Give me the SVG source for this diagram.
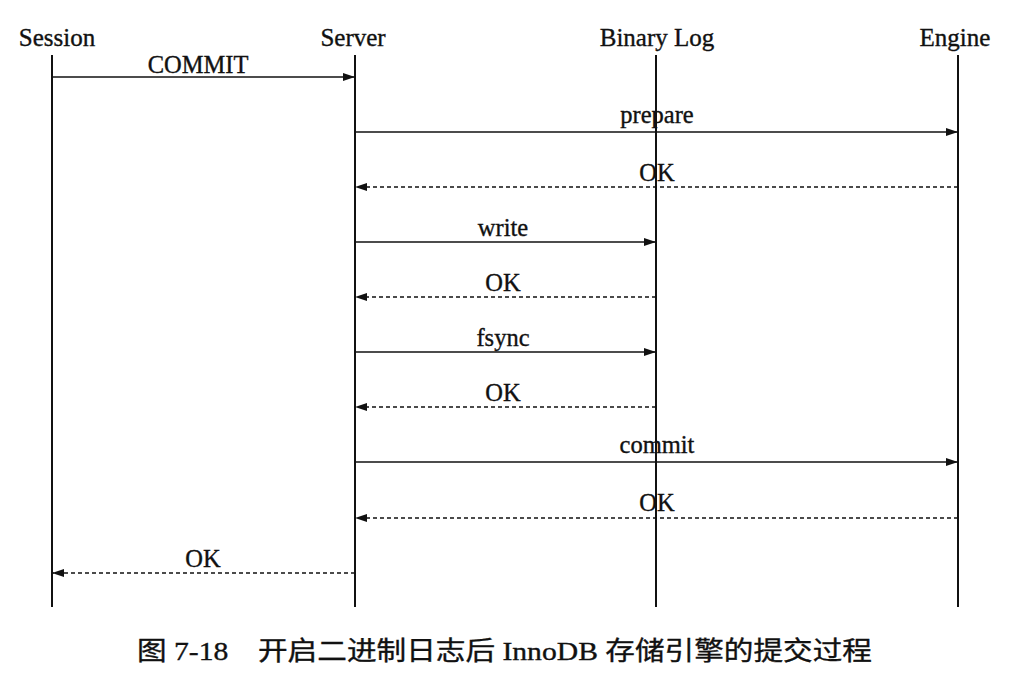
<svg xmlns="http://www.w3.org/2000/svg" width="1017" height="676" viewBox="0 0 1017 676">
<style>
text{font-family:"Liberation Serif","Noto Sans CJK SC",serif;fill:#111;stroke:#111;stroke-width:0.35}
.h{font-size:25px;text-anchor:middle}
.l{font-size:24.5px;text-anchor:middle}
.life{stroke:#111;stroke-width:2}
.msg{stroke:#111;stroke-width:1.6;fill:none;marker-end:url(#ah)}
.ret{stroke:#111;stroke-width:1.6;fill:none;stroke-dasharray:4 3;marker-end:url(#ah)}
</style>
<defs>
<marker id="ah" viewBox="0 0 12 8" refX="12" refY="4" markerWidth="12" markerHeight="8" markerUnits="userSpaceOnUse" orient="auto">
<path d="M0,0 L12,4 L0,8 Z" fill="#111"/>
</marker>
</defs>
<rect width="1017" height="676" fill="#fff"/>
<g id="session"><text class="h" x="57" y="46">Session</text><line class="life" x1="52" y1="55" x2="52" y2="607"/></g>
<g id="server"><text class="h" x="353" y="46">Server</text><line class="life" x1="355" y1="55" x2="355" y2="607"/></g>
<g id="binlog"><text class="h" x="657" y="46">Binary Log</text><line class="life" x1="656" y1="55" x2="656" y2="607"/></g>
<g id="engine"><text class="h" x="955" y="46">Engine</text><line class="life" x1="958" y1="55" x2="958" y2="607"/></g>
<g id="connectors">
<line class="msg" x1="52" y1="77" x2="355" y2="77"/>
<text class="l" x="198" y="73">COMMIT</text>
<line class="msg" x1="355" y1="132" x2="958" y2="132"/>
<text class="l" x="657" y="123">prepare</text>
<line class="ret" x1="958" y1="187" x2="355" y2="187"/>
<text class="l" x="657" y="181">OK</text>
<line class="msg" x1="355" y1="242" x2="656" y2="242"/>
<text class="l" x="503" y="236">write</text>
<line class="ret" x1="656" y1="297" x2="355" y2="297"/>
<text class="l" x="503" y="291">OK</text>
<line class="msg" x1="355" y1="352" x2="656" y2="352"/>
<text class="l" x="503" y="346">fsync</text>
<line class="ret" x1="656" y1="407" x2="355" y2="407"/>
<text class="l" x="503" y="401">OK</text>
<line class="msg" x1="355" y1="462" x2="958" y2="462"/>
<text class="l" x="657" y="453">commit</text>
<line class="ret" x1="958" y1="518" x2="355" y2="518"/>
<text class="l" x="657" y="511">OK</text>
<line class="ret" x1="355" y1="573" x2="52" y2="573"/>
<text class="l" x="203" y="567">OK</text>
</g>
<text x="137" y="660" font-size="26" textLength="735" lengthAdjust="spacingAndGlyphs" style="white-space:pre">图 7-18　开启二进制日志后 InnoDB 存储引擎的提交过程</text>
</svg>
